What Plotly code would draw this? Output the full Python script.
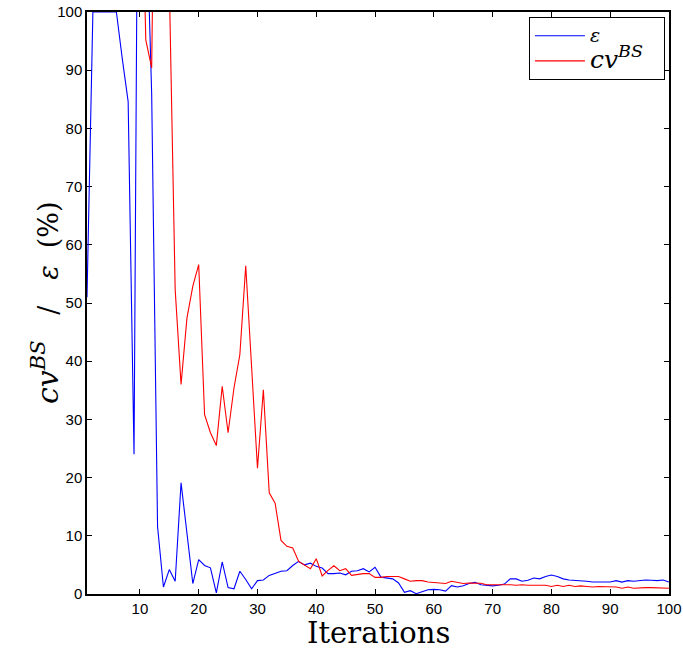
import plotly.graph_objects as go

iterations = list(range(1, 101))

eps_values = [
    51, 100, 100, 100, 100, 100, 92, 84.6, 24, 190,
    121, 86, 11.6, 1.2, 4.2, 2.2, 19.1, 10.5, 1.8, 5.9,
    4.9, 4.5, 0.2, 5.5, 1.1, 0.9, 3.9, 2.5, 0.9, 2.3,
    2.4, 3.2, 3.6, 3.9, 4.0, 4.9, 5.6, 5.0, 5.3, 4.75,
    4.46, 3.5, 3.5, 3.6, 3.3, 3.9, 4.0, 4.35, 3.8, 4.6,
    2.9, 2.8, 2.6, 1.9, 0.3, 0.57, 0.06, 0.4, 0.74, 0.8,
    0.74, 0.5, 1.43, 1.2, 1.43, 1.8, 2.0, 1.6, 1.5, 1.4,
    1.5, 1.7, 2.6, 2.6, 2.2, 2.35, 2.75, 2.6, 3.0, 3.25,
    3.0, 2.6, 2.4, 2.35, 2.35, 2.2, 2.05, 2.0, 2.05, 2.05,
    2.3, 2.05, 2.3, 2.2, 2.3, 2.4, 2.35, 2.3, 2.4, 2.05,
]

cv_values = [
    None, None, None, None, None, None, None, None, None, 138,
    95.2, 90.4, 170, 140, 105, 52.3, 36, 47.4, 52.9, 56.6,
    30.8, 27.7, 25.5, 35.7, 27.7, 35.4, 41.1, 56.4, 38, 21.6,
    35.1, 17.4, 15.6, 9.2, 8.2, 7.9, 5.6, 5.0, 4.35, 6.07,
    3.1, 4.06, 4.86, 4.0, 4.35, 3.2, 3.37, 3.5, 3.5, 2.86,
    2.86, 3.0, 3.0, 3.0, 2.6, 2.2, 2.3, 2.3, 2.06, 2.0,
    1.9, 1.8, 2.2, 2.0, 1.8, 1.9, 1.9, 1.85, 1.6, 1.6,
    1.7, 1.6, 1.6, 1.5, 1.6, 1.5, 1.5, 1.6, 1.5, 1.3,
    1.5, 1.3, 1.5, 1.3, 1.4, 1.3, 1.2, 1.3, 1.3, 1.3,
    1.2, 1.0, 1.2, 1.0, 1.1, 1.1, 1.1, 1.1, 1.1, 1.0,
]

x_ticks = [10, 20, 30, 40, 50, 60, 70, 80, 90, 100]
y_ticks = [0, 10, 20, 30, 40, 50, 60, 70, 80, 90, 100]

SERIF = "DejaVu Serif"
NB = "\u00a0"

fig = go.Figure()
fig.add_trace(go.Scatter(
    x=iterations, y=eps_values, mode="lines",
    name='<span style="font-size:19px"><i>ε</i></span>',
    line=dict(color="#0000ff", width=1.1),
))
fig.add_trace(go.Scatter(
    x=iterations, y=cv_values, mode="lines",
    name=('<span style="font-size:25px"><i>cv</i><sup><i>BS</i></sup>'
          + NB * 2 + '</span>'),
    line=dict(color="#ff0000", width=1.1),
    connectgaps=False,
))

axis_common = dict(
    showline=True, linecolor="black", linewidth=1.5, mirror="allticks",
    ticks="inside", ticklen=5, tickwidth=1, tickcolor="black",
    showgrid=False, zeroline=False, automargin=False,
    tickfont=dict(family="Liberation Sans", size=15, color="black"),
    layer="below traces",
)

fig.update_xaxes(
    range=[1, 100], tickvals=x_ticks, ticktext=[str(v) for v in x_ticks],
    **axis_common,
)
fig.update_yaxes(
    range=[0, 100], tickvals=y_ticks, ticktext=[str(v) for v in y_ticks],
    **axis_common,
)

fig.add_annotation(
    text="Iterations", showarrow=False,
    xref="paper", yref="paper", x=0.5, y=0,
    xanchor="center", yanchor="middle", yshift=-39, height=30,
    font=dict(family=SERIF, size=29, color="black"),
)

ytitle = ('<span style="font-size:30px"><i>cv</i><sup><i>BS</i></sup></span>'
          + NB * 3 + "/" + NB * 3 + "<i>ε</i>" + NB * 2 + "(%)")
fig.add_annotation(
    text=ytitle, textangle=-90, showarrow=False,
    xref="paper", yref="paper", x=0, y=0.5,
    xanchor="center", yanchor="middle", xshift=-42,
    font=dict(family=SERIF, size=27, color="black"),
)

fig.update_layout(
    width=683, height=649,
    margin=dict(l=87, r=14, t=12, b=55),
    paper_bgcolor="white", plot_bgcolor="white",
    legend=dict(
        x=0.993, y=0.991, xanchor="right", yanchor="top",
        bgcolor="white", bordercolor="black", borderwidth=1,
        font=dict(family=SERIF, size=17, color="black"),
        itemwidth=50, tracegroupgap=0,
    ),
)

fig.write_html("out.html", config={"displayModeBar": False},
               post_script="document.body.style.margin='0px';")
